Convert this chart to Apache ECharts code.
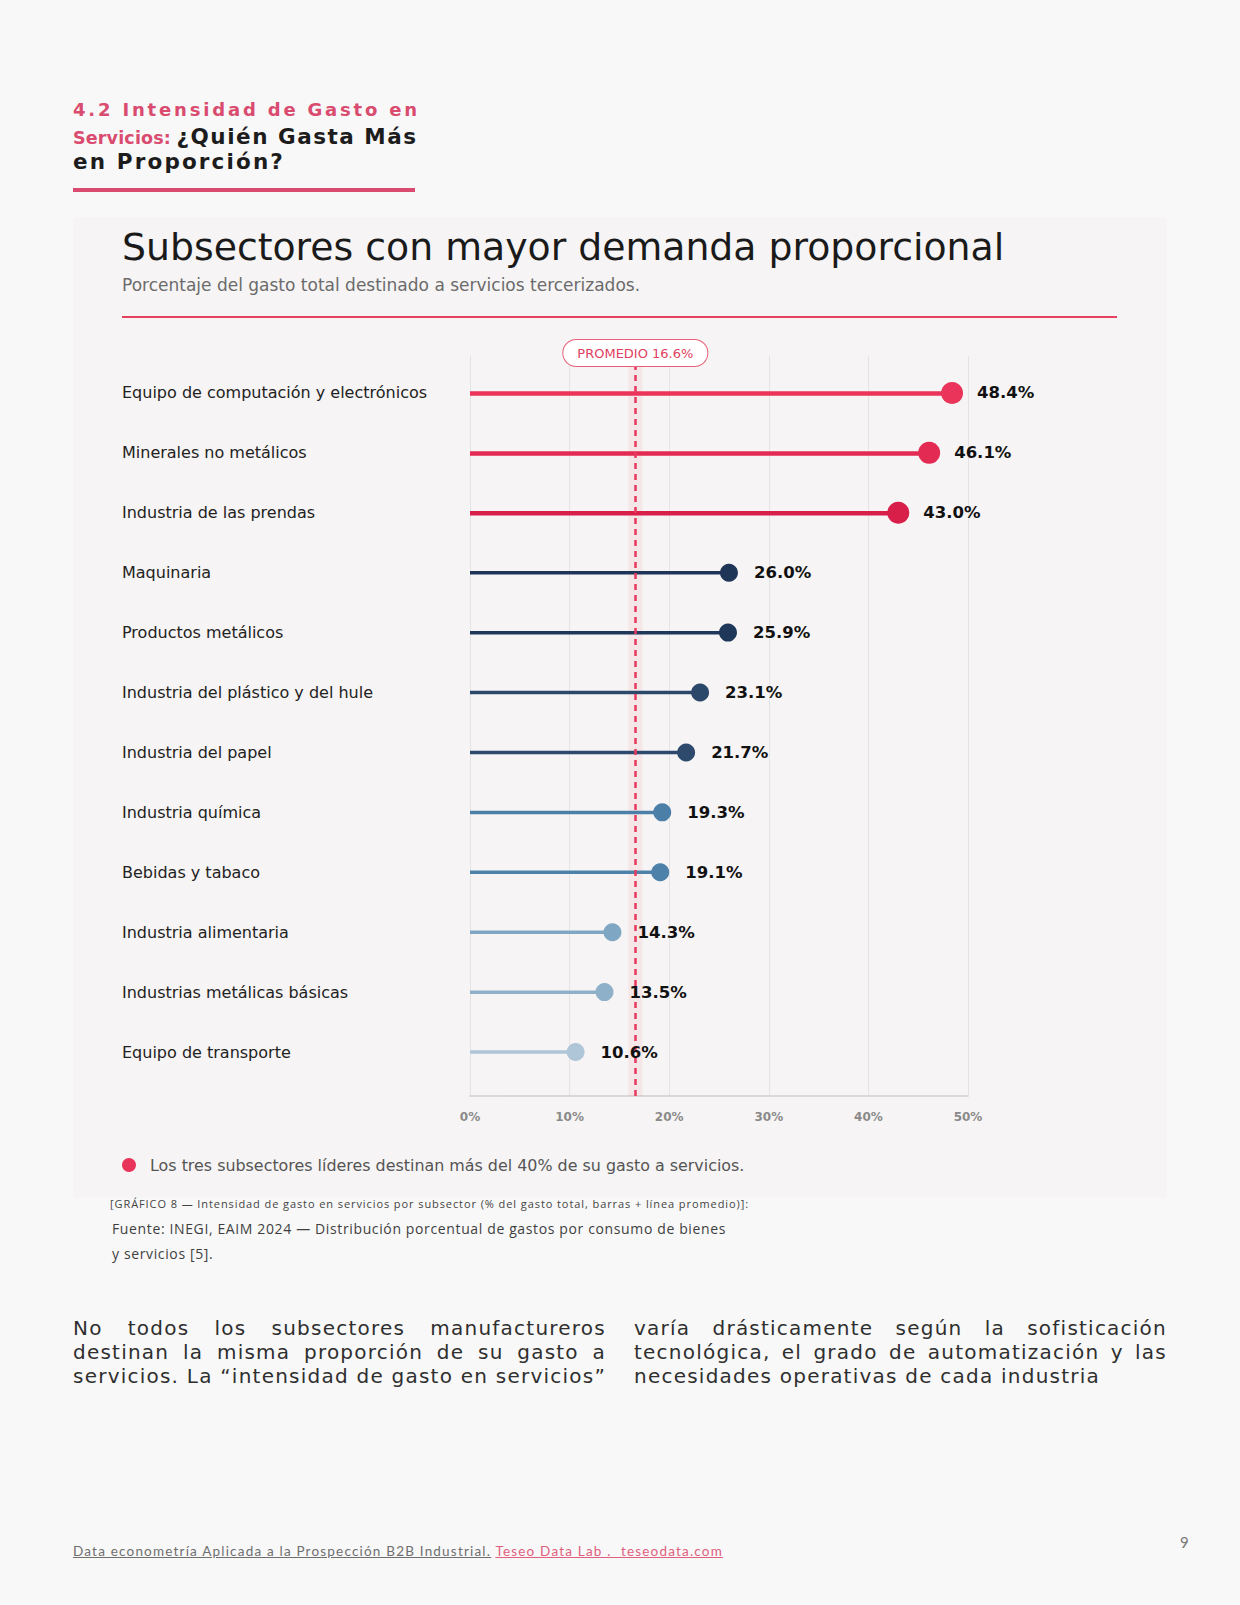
<!DOCTYPE html>
<html>
<head>
<meta charset="utf-8">
<script src="https://cdn.jsdelivr.net/npm/echarts@6/dist/echarts.min.js"></script>
<style>
  html, body { margin:0; padding:0; }
  body { width:1240px; height:1605px; background:#f8f8f8; position:relative; overflow:hidden; font-family:"Open Sans", sans-serif; }
  .abs { position:absolute; white-space:nowrap; }
  #h1 { left:73px; top:99px; font-family:"DejaVu Sans", sans-serif; font-size:18px; font-weight:700; color:#d94b6f; line-height:22px; }
  #h2 { left:73px; top:124px; font-family:"DejaVu Sans", sans-serif; font-weight:700; line-height:25px; }
  #h2 .pk { color:#d94b6f; font-size:17.5px; }
  #h2 .bk { color:#1c1c1c; font-size:21.5px; }
  #h3 { left:73px; top:149px; font-family:"DejaVu Sans", sans-serif; font-size:21.5px; font-weight:700; color:#1c1c1c; line-height:25px; }
  #hrule { position:absolute; left:73px; top:188px; width:342px; height:4px; background:#d94b6f; }
  #card { position:absolute; left:73px; top:217px; width:1094px; height:981px; background:#f6f4f4; border-radius:4px; }
  #chart { position:absolute; left:73px; top:217px; width:1094px; height:981px; }
  #cap { left:110px; top:1196px; font-size:11px; color:#444; line-height:16px; }
  .src { font-size:14px; color:#3f3f3f; line-height:18px; }
  #src1 { left:112px; top:1220px; }
  #src2 { left:112px; top:1245px; }
  .body { font-family:"DejaVu Sans", sans-serif; font-size:20px; color:#2f2f2f; line-height:24px; }
  #footer { left:73px; top:1542px; font-family:Lato, sans-serif; font-size:13.5px; color:#6f6f6f; line-height:18px; }
  #footer span { text-decoration:underline; }
  #footer .pk { color:#e0607e; }
  #pg { left:1180px; top:1533px; font-family:Lato, sans-serif; font-size:15px; color:#777; }
</style>
</head>
<body>
<div id="h1" class="abs">4.2 Intensidad de Gasto en</div>
<div id="h2" class="abs"><span class="pk" id="h2a">Servicios:</span> <span class="bk" id="h2b">¿Quién Gasta Más</span></div>
<div id="h3" class="abs">en Proporción?</div>
<div id="hrule"></div>
<div id="card"></div>
<div id="chart"></div>
<div id="cap" class="abs">[GRÁFICO 8 — Intensidad de gasto en servicios por subsector (% del gasto total, barras + línea promedio)]:</div>
<div id="src1" class="abs src">Fuente: INEGI, EAIM 2024 — Distribución porcentual de gastos por consumo de bienes</div>
<div id="src2" class="abs src">y servicios [5].</div>

<div class="abs body fit" data-w="533" style="left:73px;top:1316px;">No todos los subsectores manufactureros</div>
<div class="abs body fit" data-w="533" style="left:73px;top:1340px;">destinan la misma proporción de su gasto a</div>
<div class="abs body fit" data-w="533" style="left:73px;top:1364px;">servicios. La “intensidad de gasto en servicios”</div>
<div class="abs body fit" data-w="533" style="left:634px;top:1316px;">varía drásticamente según la sofisticación</div>
<div class="abs body fit" data-w="533" style="left:634px;top:1340px;">tecnológica, el grado de automatización y las</div>
<div class="abs body" id="lastline" style="left:634px;top:1364px;">necesidades operativas de cada industria</div>

<div id="footer" class="abs"><span>Data econometría Aplicada a la Prospección B2B Industrial.</span> <span class="pk">Teseo Data Lab .&nbsp; teseodata.com</span></div>
<div id="pg" class="abs">9</div>

<script>
// ---- data ----
const categories = [
  'Equipo de computación y electrónicos',
  'Minerales no metálicos',
  'Industria de las prendas',
  'Maquinaria',
  'Productos metálicos',
  'Industria del plástico y del hule',
  'Industria del papel',
  'Industria química',
  'Bebidas y tabaco',
  'Industria alimentaria',
  'Industrias metálicas básicas',
  'Equipo de transporte'
];
const values = [48.4, 46.1, 43.0, 26.0, 25.9, 23.1, 21.7, 19.3, 19.1, 14.3, 13.5, 10.6];
const leaderFlags = [true, true, true, false, false, false, false, false, false, false, false, false];
const xTickValues = [0, 10, 20, 30, 40, 50];
const averageValue = 16.6;
const averageLabel = 'PROMEDIO 16.6%';

// ---- styles ----
const rowColors = ['#ea3459', '#e32a52', '#d71f49', '#1e3558', '#1f3759', '#2b4769', '#2d4a6d',
                   '#4b7fa8', '#4d81aa', '#7fa7c4', '#8eb0c9', '#afc5d8'];

// ---- text fitting helpers (layout only) ----
function fitLetters(el, target) {
  el.style.letterSpacing = '0px';
  const w = el.getBoundingClientRect().width;
  const n = el.textContent.length;
  el.style.letterSpacing = ((target - w) / n) + 'px';
}
function fitWords(el, target) {
  const w = el.getBoundingClientRect().width;
  const spaces = (el.textContent.match(/ /g) || []).length;
  if (spaces) el.style.wordSpacing = ((target - w) / spaces) + 'px';
}
(function () {
  const last = document.getElementById('lastline');
  fitLetters(last, 466);
  const ls = last.style.letterSpacing;
  document.querySelectorAll('.fit').forEach(el => { el.style.letterSpacing = ls; fitWords(el, +el.dataset.w); });
  fitLetters(document.getElementById('h1'), 347);
  fitLetters(document.getElementById('h2a'), 98);
  fitLetters(document.getElementById('h2b'), 241);
  fitLetters(document.getElementById('h3'), 212);
  fitLetters(document.getElementById('cap'), 639);
  fitLetters(document.getElementById('src1'), 614);
  document.getElementById('src2').style.letterSpacing = document.getElementById('src1').style.letterSpacing;
  fitLetters(document.getElementById('footer'), 650);
})();

const chart = echarts.init(document.getElementById('chart'), null, { renderer: 'svg' });
const F = 'DejaVu Sans, sans-serif';

const leaderBars = values.map((v, i) => leaderFlags[i] ? { value: v, itemStyle: { color: rowColors[i] } } : '-');
const otherBars = values.map((v, i) => !leaderFlags[i] ? { value: v, itemStyle: { color: rowColors[i] } } : '-');
const dots = values.map((v, i) => ({
  value: [v, categories[i]],
  symbolSize: leaderFlags[i] ? 22 : 18,
  itemStyle: { color: rowColors[i], opacity: 1 },
  label: { distance: leaderFlags[i] ? 14 : 16 }
}));

chart.setOption({
  animation: false,
  title: {
    text: 'Subsectores con mayor demanda proporcional',
    subtext: 'Porcentaje del gasto total destinado a servicios tercerizados.',
    left: 49, top: 8, itemGap: 6, padding: 0,
    textStyle: { fontFamily: F, fontSize: 37.8, fontWeight: 'normal', color: '#1a1a1a', lineHeight: 44 },
    subtextStyle: { fontFamily: F, fontSize: 17, color: '#6b6b6b', lineHeight: 20 }
  },
  graphic: [
    { type: 'line', shape: { x1: 49, y1: 100, x2: 1044, y2: 100 }, style: { stroke: '#e8405f', lineWidth: 2 } },
    { type: 'circle', shape: { cx: 56, cy: 948, r: 7 }, style: { fill: '#e8345a' } },
    { type: 'text', style: { x: 77, y: 948, text: 'Los tres subsectores líderes destinan más del 40% de su gasto a servicios.',
      font: '15.9px DejaVu Sans', fill: '#555', verticalAlign: 'middle' } }
  ],
  grid: [
    { left: 397, width: 498, top: 146, height: 719 },
    { left: 397, width: 498, top: 139, height: 740 }
  ],
  xAxis: [
    { gridIndex: 0, type: 'value', min: xTickValues[0], max: xTickValues[xTickValues.length - 1], interval: 10, show: false },
    { gridIndex: 1, type: 'value', min: xTickValues[0], max: xTickValues[xTickValues.length - 1], interval: 10,
      axisLine: { show: true, lineStyle: { color: '#cfcfcf', width: 1.5 } },
      axisTick: { show: false },
      splitLine: { show: true, lineStyle: { color: '#e4e4e4', width: 1 } },
      axisLabel: { formatter: v => v + '%', color: '#8a8a8a', fontWeight: 'bold', fontSize: 12, margin: 15, fontFamily: F } }
  ],
  yAxis: [
    { gridIndex: 0, type: 'category', data: categories, inverse: true,
      axisLine: { show: false }, axisTick: { show: false }, splitLine: { show: false },
      axisLabel: { align: 'left', margin: 348, fontSize: 16, color: '#222', fontFamily: F } },
    { gridIndex: 1, type: 'value', min: 0, max: 1, show: false }
  ],
  series: [
    { type: 'line', xAxisIndex: 1, yAxisIndex: 1, data: [], z: 1, silent: true,
      markArea: { silent: true, itemStyle: { color: 'rgba(236,72,104,0.08)' },
        data: [[{ xAxis: averageValue - 0.7 }, { xAxis: averageValue + 0.7 }]] } },
    { type: 'bar', name: 'leaders', xAxisIndex: 0, yAxisIndex: 0, data: leaderBars, barWidth: 4.5, barGap: '-100%', z: 2, silent: true },
    { type: 'bar', name: 'others', xAxisIndex: 0, yAxisIndex: 0, data: otherBars, barWidth: 3.5, barGap: '-100%', z: 2, silent: true },
    { type: 'line', xAxisIndex: 1, yAxisIndex: 1, data: [], z: 3, silent: true,
      markLine: { silent: true, symbol: 'none',
        lineStyle: { color: '#e8395e', type: [6, 5], width: 2.5 },
        label: { show: true, position: 'end', distance: -10, formatter: averageLabel,
          color: '#e0405f', fontSize: 13, fontFamily: F, backgroundColor: '#ffffff',
          borderColor: '#e6607a', borderWidth: 1, borderRadius: 15, padding: [7, 14, 6, 14] },
        data: [{ xAxis: averageValue }] } },
    { type: 'scatter', xAxisIndex: 0, yAxisIndex: 0, data: dots, z: 5,
      label: { show: true, position: 'right', formatter: p => p.value[0].toFixed(1) + '%',
        fontWeight: 'bold', fontSize: 16.5, color: '#111', fontFamily: F } }
  ]
});
</script>
</body>
</html>
